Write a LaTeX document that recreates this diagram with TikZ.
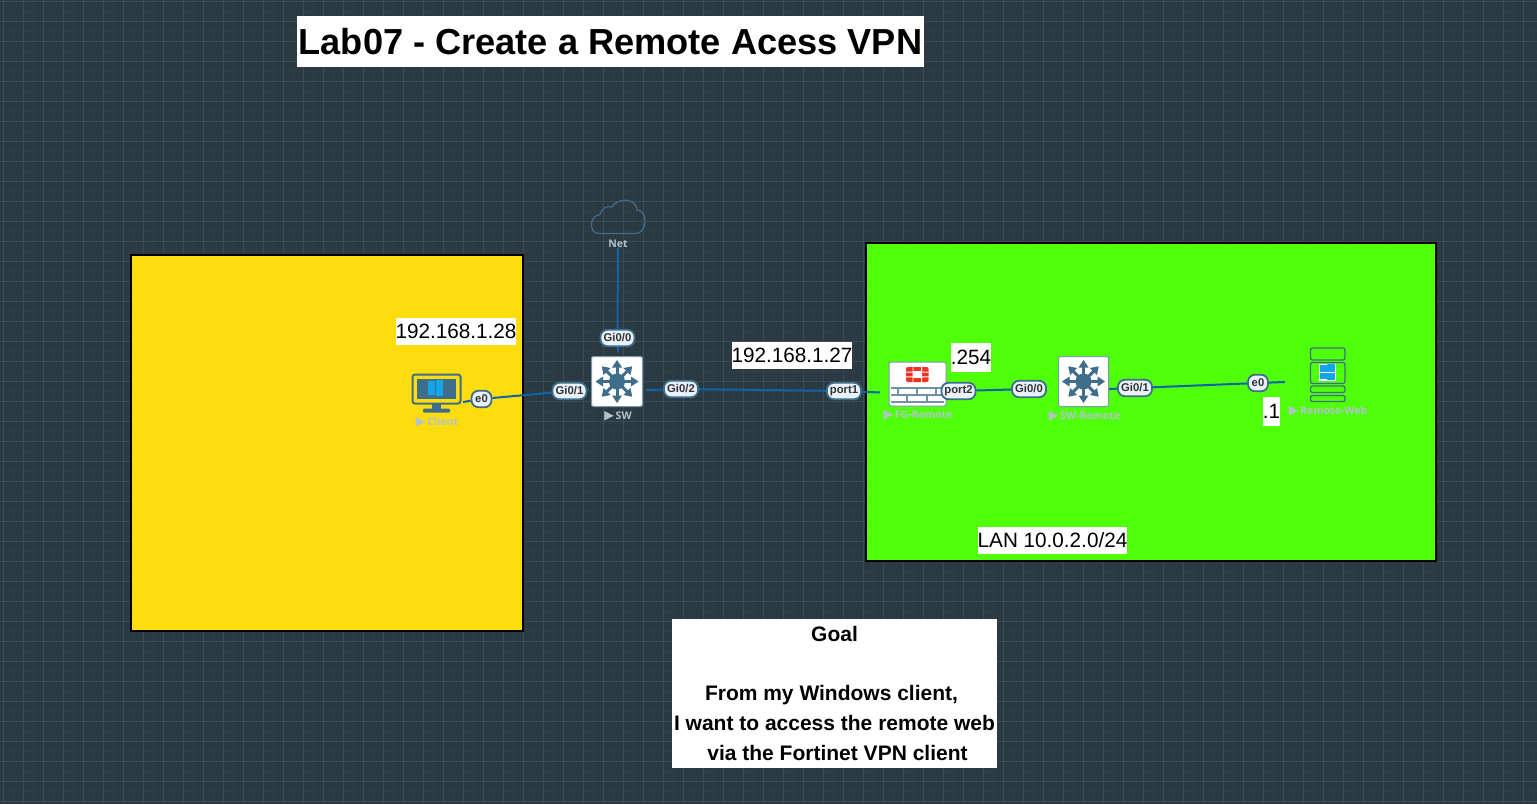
\documentclass[tikz,border=0pt]{standalone}
\usepackage{fontspec}
\setmainfont{Liberation Sans}
\newfontfamily\lblfont{Open Sans}
\newfontfamily\tridfont{DejaVu Sans}
\usetikzlibrary{arrows.meta}
\definecolor{bgc}{HTML}{2B3942}
\definecolor{gridmaj}{HTML}{3D4B54}
\definecolor{gridmin}{HTML}{303E47}
\definecolor{yel}{HTML}{FEDD0E}
\definecolor{grn}{HTML}{50FF0A}
\definecolor{lnk}{HTML}{0F63A8}
\definecolor{icon}{HTML}{3F6E8C}
\definecolor{ifbg}{HTML}{E9F2FA}
\definecolor{lbl}{HTML}{B4C2CC}
\definecolor{winb}{HTML}{12A5EA}
\definecolor{fred}{HTML}{EE3124}
\pgfdeclarelayer{back}
\pgfdeclarelayer{links}
\pgfsetlayers{back,links,main}
\newcommand{\tri}{{\tridfont\fontsize{12.5}{12}\selectfont\char"25B6}\,}
\tikzset{
  zone/.style={draw=black,line width=2pt},
  whitebox/.style={fill=white,inner sep=0pt,text=black,font=\fontsize{20.7}{24}\selectfont},
  iface/.style={draw=icon,line width=1.8pt,fill=ifbg,rounded corners=7pt,inner sep=0pt,text=black!80,
     font=\fontsize{11.3}{12}\selectfont\bfseries,minimum height=16.5pt},
  link/.style={draw=lnk,line width=2pt},
  device/.style={fill=white,draw=icon!70,line width=1pt,rounded corners=2pt,inner sep=0pt},
  devlabel/.style={text=lbl,font=\fontsize{10.5}{12}\selectfont\lblfont\bfseries,inner sep=0pt},
  pics/swicon/.style={code={
    \fill[icon] (0,0) circle (8pt);
    \foreach \a in {0,45,...,315}{
      \draw[icon,line width=3pt] (0,0) -- (\a:16pt);
      \fill[icon] (\a:21.5pt) -- ([shift={(\a:14pt)}]\a+90:5pt) -- ([shift={(\a:14pt)}]\a-90:5pt) -- cycle;
    }
  }},
  pics/winlogo/.style={code={
    \fill[winb] (-7.5,-7) rectangle (-0.4,-0.4);
    \fill[winb] (0.4,-8) rectangle (7.5,-0.4);
    \fill[winb] (-7.5,0.4) rectangle (-0.4,7);
    \fill[winb] (0.4,0.4) rectangle (7.5,8);
  }},
}
\begin{document}
\begin{tikzpicture}[x=1pt,y=-1pt]
\useasboundingbox (0,0) rectangle (1537,804);
\begin{pgfonlayer}{back}
  \fill[bgc] (0,0) rectangle (1537,804);
  \foreach \i in {0,...,153}{\draw[gridmin,line width=0.8pt] ({\i*10+3.3},0) -- ({\i*10+3.3},804);}
  \foreach \i in {0,...,80}{\draw[gridmin,line width=0.8pt] (0,{\i*10+1.7}) -- (1537,{\i*10+1.7});}
  \foreach \i in {0,...,76}{\draw[gridmaj,line width=1pt] ({\i*20+3.3},0) -- ({\i*20+3.3},804);}
  \foreach \i in {0,...,40}{\draw[gridmaj,line width=1pt] (0,{\i*20+1.7}) -- (1537,{\i*20+1.7});}
  \draw[zone,fill=yel] (131,255) rectangle (522.5,631);
  \draw[zone,fill=grn] (866,243) rectangle (1435.5,561);
\end{pgfonlayer}

% white text boxes
\node[whitebox,minimum width=627pt,minimum height=51pt,font=\fontsize{36.2}{40}\selectfont\bfseries] (title) at (610.5,41.5) {\raisebox{-1pt}{Lab07 - Create a Remote Acess VPN}};
\node[whitebox,minimum width=120pt,minimum height=27pt] (ipa) at (456,331.5) {192.168.1.28};
\node[whitebox,minimum width=120pt,minimum height=27pt] (ipb) at (792,355.5) {192.168.1.27};
\node[whitebox,minimum width=40pt,minimum height=29pt] (ipc) at (971,357.5) {.254};
\node[whitebox,minimum width=17pt,minimum height=29pt] (ipd) at (1271.5,411.5) {.1};
\node[whitebox,minimum width=149pt,minimum height=27pt] (lan) at (1052.5,540.5) {LAN 10.0.2.0/24};
\node[fill=white,minimum width=325pt,minimum height=149pt,inner sep=0pt] (goalbox) at (834.5,693.5) {};
\node[text=black,align=center,inner sep=0pt,anchor=north,font=\fontsize{21}{29.7}\selectfont\bfseries] (goal) at (834.5,626) {Goal\\[0pt] \\\hspace*{-6pt}From my Windows client,\\I want to access the remote web\\\hspace*{6pt}via the Fortinet VPN client};

% cloud
\node[inner sep=0pt,minimum width=54pt,minimum height=34pt] (net) at (618,217) {};
\draw[icon,line width=1.2pt,fill=none] (599,233.5)
  .. controls (593,233.5) and (591,228) .. (591.5,223)
  .. controls (592,218) and (596,215) .. (600,214.5)
  .. controls (601,209) and (607,205) .. (612,207)
  .. controls (615,201) and (626,198) .. (632,202)
  .. controls (636,204) and (637,208) .. (637,210)
  .. controls (642,210) and (645,215) .. (645,221)
  .. controls (645,228) and (641,233.5) .. (636,233.5) -- cycle;
\node[devlabel] (netl) at (618,243.5) {Net};

% client
\node[inner sep=0pt,minimum width=50pt,minimum height=40pt] (client) at (436,394) {};
\draw[icon,line width=2pt,rounded corners=2.5pt] (412.5,374.5) rectangle (460.5,403.5);
\fill[icon] (417,378.5) rectangle (456,399);
\pic at (435.5,388) {winlogo};
\fill[icon] (431.5,403.5) rectangle (440.5,409);
\fill[icon,rounded corners=1pt] (423,408.5) rectangle (450,412.5);
\node[devlabel] (clientl) at (437,422) {\tri Client};

% switches
\node[device,minimum width=51pt,minimum height=50pt] (sw) at (617,381.5) {};
\pic at (sw.center) {swicon};
\node[devlabel] (swl) at (618,416) {\tri SW};
\node[device,minimum width=50pt,minimum height=50pt] (swr) at (1083.5,381.5) {};
\pic at (swr.center) {swicon};
\node[devlabel] (swrl) at (1084.5,416) {\tri SW-Remote};

% firewall
\node[device,minimum width=57pt,minimum height=44pt] (fg) at (917.5,384) {};
\fill[fred,rounded corners=2pt] (906,367) rectangle (928.5,382);
\fill[white] (906,371.6) rectangle (929,372.6) (906,376.4) rectangle (929,377.4);
\fill[white] (912.5,370.8) rectangle (922,378.2);
\fill[white] (912.6,367) rectangle (913.4,382) (921.2,367) rectangle (922,382);
\draw[icon!75,line width=1.7pt]
  (891,388) -- (944,388) (891,395) -- (944,395) (891,402) -- (944,402)
  (898,388) -- (898,395) (917,388) -- (917,395) (936,388) -- (936,395)
  (907,395) -- (907,402) (927,395) -- (927,402);
\node[devlabel] (fgl) at (918,415.5) {\tri FG-Remote};

% server
\node[inner sep=0pt,minimum width=36pt,minimum height=56pt] (web) at (1328,375.5) {};
\draw[icon,line width=1.3pt,rounded corners=2pt]
  (1310.5,348) rectangle (1345,360)
  (1310.5,362.5) rectangle (1345,383.5)
  (1310.5,386) rectangle (1345,392.5)
  (1310.5,395.5) rectangle (1345,401.5);
\fill[white] (1318.5,363.5) rectangle (1335.5,380.5);
\pic at (1327,372.3) {winlogo};
\node[devlabel] (webl) at (1328,411.5) {\tri Remote-Web};

% interface labels
\node[iface,minimum width=34pt] (gi00) at (617.5,338) {Gi0/0};
\node[iface,minimum width=34pt] (gi01) at (569.5,391) {Gi0/1};
\node[iface,minimum width=34pt] (gi02) at (681,389) {Gi0/2};
\node[iface,minimum width=20pt] (e0) at (481.5,399) {e0};
\node[iface,minimum width=34pt] (port1) at (844,391) {port1};
\node[iface,minimum width=34pt] (port2) at (958.5,391) {port2};
\node[iface,minimum width=34pt] (gi00r) at (1029,389) {Gi0/0};
\node[iface,minimum width=34pt] (gi01r) at (1135,388) {Gi0/1};
\node[iface,minimum width=20pt] (e0r) at (1258,383) {e0};

% free ends
\coordinate (clientp) at (463,402);
\coordinate (swW) at (589,389.5);
\coordinate (swN) at (618,352.5);
\coordinate (swE) at (646,390);
\coordinate (fgW) at (880,392.5);
\coordinate (swrE) at (1109,389);
\coordinate (webW) at (1285,382);

\begin{pgfonlayer}{links}
  \draw[link] (netl) -- (gi00) -- (swN);
  \draw[link] (clientp) -- (e0) -- (gi01) -- (swW);
  \draw[link] (swE) -- (gi02) -- (port1) -- (fgW);
  \draw[link] (port2) -- (gi00r);
  \draw[link] (swrE) -- (gi01r) -- (e0r) -- (webW);
\end{pgfonlayer}
\end{tikzpicture}
\end{document}
